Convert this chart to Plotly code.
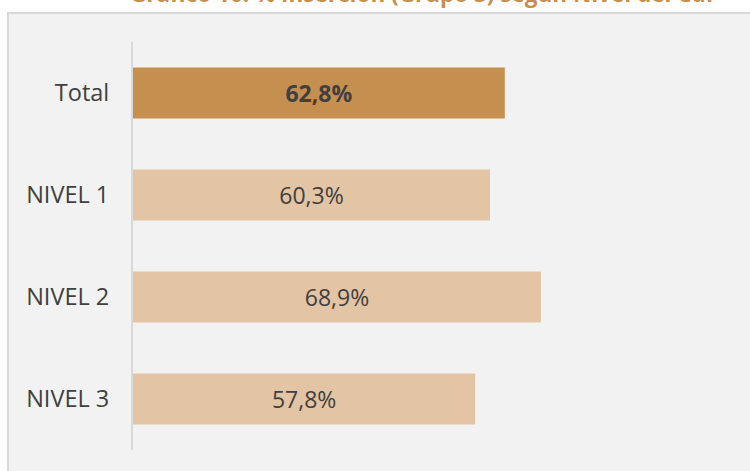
import plotly.graph_objects as go

categories = ["Total", "NIVEL 1", "NIVEL 2", "NIVEL 3"]
values = [62.8, 60.3, 68.9, 57.8]
labels = ["<b>62,8%</b>", "60,3%", "68,9%", "57,8%"]
colors = ["#C58F50", "#E3C4A4", "#E3C4A4", "#E3C4A4"]
title_text = "Gráfico 10: % Inserción (Grupo 3) según Nivel del CdP"

W, H = 750, 471
L, R, T, B = 133, 25, 42, 21
pw, ph = W - L - R, H - T - B

def px_x(x):
    return (x - L) / pw

def px_y(y):
    return (H - B - y) / ph

fig = go.Figure(go.Bar(
    y=categories, x=values, orientation="h",
    marker=dict(color=colors, line=dict(width=0)),
    text=labels, textposition="inside", insidetextanchor="middle",
    textfont=dict(family="Open Sans", size=23, color="#404040"),
    width=0.5, hoverinfo="skip",
))

fig.update_layout(
    template="none",
    width=W, height=H,
    margin=dict(l=L, r=R, t=T, b=B, pad=0),
    paper_bgcolor="white", plot_bgcolor="rgba(0,0,0,0)",
    showlegend=False,
    xaxis=dict(range=[0, 100], visible=False, fixedrange=True, automargin=False),
    yaxis=dict(categoryorder="array", categoryarray=categories[::-1],
               showline=True, linecolor="#D9D9D9", linewidth=2,
               showgrid=False, zeroline=False, ticks="", automargin=False,
               ticklabelstandoff=17,
               tickfont=dict(family="Open Sans", size=23.5, color="#404040")),
    shapes=[dict(type="rect", xref="paper", yref="paper", layer="below",
                 x0=px_x(8), x1=px_x(800), y0=px_y(500), y1=px_y(13),
                 fillcolor="#F2F2F2", line=dict(color="#D9D9D9", width=2))],
    annotations=[dict(text="<b>" + title_text + "</b>", xref="paper", yref="paper",
                      x=px_x(425), y=px_y(10.5), xanchor="center", yanchor="bottom",
                      showarrow=False,
                      font=dict(family="Open Sans", size=22.5, color="#C58F50"))],
)

fig.write_html(
    "out.html",
    config={"displayModeBar": False},
    post_script="document.body.style.margin='0px';document.body.style.overflow='hidden';",
)
